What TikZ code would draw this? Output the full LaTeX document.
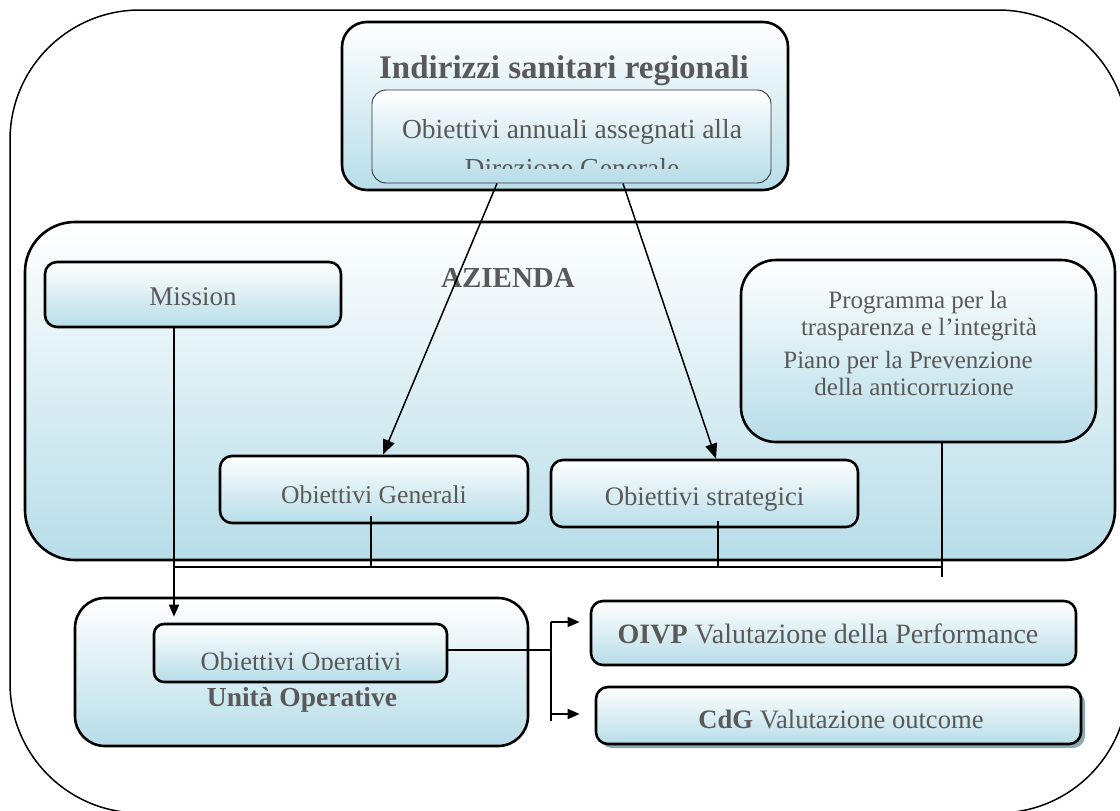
\documentclass[tikz,border=0pt]{standalone}
\usepackage{fontspec}
\setmainfont{Liberation Serif}
\usetikzlibrary{arrows.meta,shadows,calc}
\definecolor{lb}{HTML}{B7DDE8}
\definecolor{tx}{HTML}{595959}
\definecolor{shc}{HTML}{8EA9B2}
\tikzset{
  box/.style={draw=black, line width=2.6pt, rounded corners=#1, top color=white, bottom color=lb, inner sep=0pt},
  box/.default=12pt,
  lbl/.style={text=tx, inner sep=0pt, anchor=base, font=\fontsize{#1}{#1}\selectfont},
  con/.style={line width=1.5pt, draw=black},
  arr/.style={con, -{Triangle[length=15pt,width=12pt]}},
  sarr/.style={con, -{Triangle[length=12pt,width=10pt]}},
}
\begin{document}
\begin{tikzpicture}[x=1pt,y=-1pt]
\useasboundingbox (0,0) rectangle (1120,811);
% outer frame
\begin{scope}
\clip (0,0) rectangle (1120,811);
\draw[line width=1.5pt, rounded corners=130pt] (10,10) rectangle (1128,813);
\end{scope}
% boxes
\node[box=50pt, minimum width=1090pt, minimum height=338pt] (az) at (570,391) {};
\node[box=25pt, minimum width=446pt, minimum height=168pt] (reg) at (565,106) {};
\node[box=14pt, line width=0.9pt, draw=black!80, minimum width=399pt, minimum height=93pt] (dg) at (571.5,136.5) {};
\node[box, minimum width=296pt, minimum height=65pt] (mission) at (193,294.5) {};
\node[box, minimum width=308pt, minimum height=67pt] (gen) at (374,489.5) {};
\node[box, minimum width=307pt, minimum height=67pt] (strat) at (704.5,493.5) {};
\node[box=35pt, minimum width=355pt, minimum height=182pt] (prog) at (918.5,351) {};
\node[box=30pt, minimum width=453pt, minimum height=148pt] (uo) at (301.5,672) {};
\node[box=10pt, minimum width=293pt, minimum height=58pt] (op) at (300.5,653) {};
\node[box, minimum width=485pt, minimum height=64pt] (oivp) at (833.5,633) {};
\node[box, minimum width=485pt, minimum height=57pt,
      drop shadow={shadow xshift=4pt, shadow yshift=-4pt, fill=shc, opacity=1}] (cdg) at (838.5,715.5) {};
% texts
\node[lbl=33] (regt) at (564,78) {\bfseries Indirizzi sanitari regionali};
\node[lbl=27.5] (dg1) at (572,138) {Obiettivi annuali assegnati alla};
\begin{scope}
\clip (dg.north west) rectangle ([yshift=15pt]dg.south east);
\node[lbl=27.5] (dg2) at (572,177) {Direzione Generale};
\end{scope}
\node[lbl=29] (azt) at (508,287) {\bfseries AZIENDA};
\node[lbl=27] (mt) at (193,305) {Mission};
\node[lbl=25.6] (gt) at (374,503) {Obiettivi Generali};
\node[lbl=26.7] (st) at (704.5,505) {Obiettivi strategici};
\node[lbl=25] (p1) at (918,308) {Programma per la};
\node[lbl=25] (p2) at (919,335) {trasparenza e l’integrità};
\node[lbl=25] (p3) at (908,368) {Piano per la Prevenzione};
\node[lbl=25] (p4) at (914,395) {della anticorruzione};
\begin{scope}
\clip (op.north west) rectangle ([yshift=14pt]op.south east);
\node[lbl=26.5] (ot) at (301,670) {Obiettivi Operativi};
\end{scope}
\node[lbl=27.5] (uot) at (302,706) {\bfseries Unità Operative};
\node[lbl=28] (oivpt) at (828,643) {{\bfseries OIVP} Valutazione della Performance};
\node[lbl=26.6] (cdgt) at (841,728) {{\bfseries CdG} Valutazione outcome};
% connectors
\draw[arr] ([xshift=-74.5pt]dg.south) -- ([xshift=9pt]gen.north);
\draw[arr] ([xshift=51.5pt]dg.south) -- ([xshift=11.5pt]strat.north);
\draw[sarr] ([xshift=-19pt]mission.south) -- ([xshift=-126.5pt,yshift=6pt]op.north);
\coordinate (hl) at (174,567);
\coordinate (hr) at (942,567);
\draw[con] (hl) -- (hr);
\coordinate (g1) at ([xshift=-3pt,yshift=8pt]gen.south);
\draw[con] (g1) -- (g1 |- hl);
\coordinate (s1) at ([xshift=13.5pt,yshift=7pt]strat.south);
\draw[con] (s1) -- (s1 |- hl);
\coordinate (pr1) at ([xshift=23.5pt]prog.south);
\draw[con] (pr1) -- ++(0,134);
\coordinate (bt) at (551,622);
\coordinate (bb) at (551,721);
\coordinate (bm) at (551,714);
\coordinate (o1) at ([yshift=3pt]op.east);
\draw[con] (o1) -- (o1 -| bt);
\draw[con] (bt) -- (bb);
\draw[sarr, shorten >=10pt] (bt) -- (bt -| oivp.west);
\draw[sarr, shorten >=15pt] (bm) -- (bm -| cdg.west);
\end{tikzpicture}
\end{document}
